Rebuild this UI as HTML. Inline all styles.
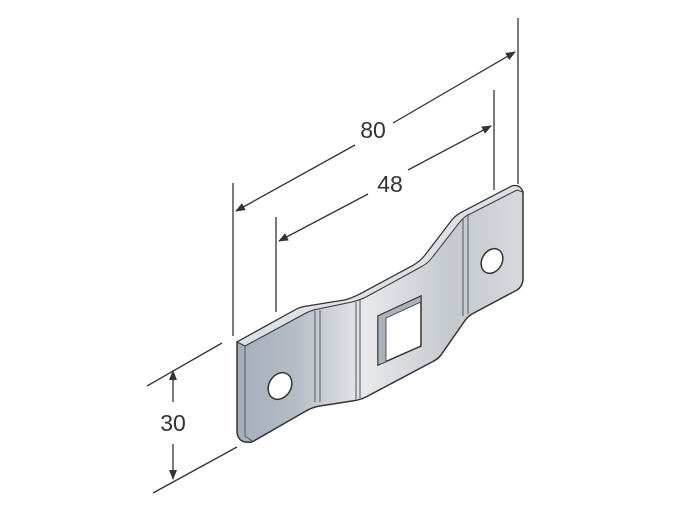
<!DOCTYPE html>
<html><head><style>html,body{margin:0;padding:0;background:#fff;width:686px;height:515px;overflow:hidden}</style></head>
<body>
<svg width="686" height="515" viewBox="0 0 686 515" xmlns="http://www.w3.org/2000/svg">
<defs>
<marker id="a" markerWidth="10" markerHeight="8" refX="9" refY="4" orient="auto" markerUnits="userSpaceOnUse"><path d="M0,0 L10,4 L0,8 Z" fill="#333"/></marker>
<linearGradient id="g" x1="0" y1="0" x2="1" y2="0">
<stop offset="0" stop-color="#a3adba"/><stop offset="0.2" stop-color="#b5bcc6"/><stop offset="0.45" stop-color="#e6e8eb"/><stop offset="0.75" stop-color="#c4c9cf"/><stop offset="1" stop-color="#d6d9dd"/></linearGradient>
</defs>
<g stroke="#333" stroke-width="1.3" fill="none">
<line x1="233" y1="183" x2="233" y2="336"/>
<line x1="518" y1="18" x2="518" y2="184"/>
<line x1="276" y1="217" x2="276" y2="312"/>
<line x1="494" y1="90" x2="494" y2="190"/>
<line x1="355" y1="145" x2="236" y2="211" marker-end="url(#a)"/>
<line x1="393" y1="123" x2="515" y2="52" marker-end="url(#a)"/>
<line x1="368" y1="194" x2="279" y2="241" marker-end="url(#a)"/>
<line x1="408" y1="170" x2="491" y2="126" marker-end="url(#a)"/>
<line x1="147" y1="386" x2="222" y2="343"/>
<line x1="153" y1="493" x2="237" y2="447"/>
<line x1="173" y1="402" x2="173" y2="371" marker-end="url(#a)"/>
<line x1="173" y1="444" x2="173" y2="479" marker-end="url(#a)"/>
</g>
<g font-family="Liberation Sans, sans-serif" font-size="23" fill="#333" text-anchor="middle">
<text x="373" y="138">80</text>
<text x="390" y="192">48</text>
<text x="173" y="431">30</text>
</g>
<path d="M237,342 L295,310 Q300,307 308,306 L345,300 Q352,298 360,294 L412,266 Q420,262 426,254 L452,220 Q456,215 462,212 L512,186 Q520,184 523,192 L523,280 Q522,287 517,290 L472,314 Q467,317 464,322 L441,355 Q438,359 432,362 L366,397 Q360,400 352,401 L320,406 Q313,407 306,411 L252,442 Q238,444 237,432 Z" fill="url(#g)" stroke="#333" stroke-width="1.5" stroke-linejoin="round"/>
<path d="M237,342 L295,310 Q300,307 308,306 L345,300 Q352,298 360,294 L412,266 Q420,262 426,254 L452,220 Q456,215 462,212 L512,186 Q520,184 523,192 L517,190 L466,216 Q462,219 459,223 L431,259 Q427,264 419,268 L366,297 Q360,300 352,302 L318,309 Q312,310 306,313 L245,346 Z" fill="#dde0e4" stroke="#333" stroke-width="1"/>
<path d="M315,311 L315,402 M320,310 L320,402 M356,302 L356,399 M360,300 L360,398 M463,218 L463,316 M468,214 L468,314" stroke="#555" stroke-width="1" fill="none"/>
<path d="M245,346 L245,436 L252,441" stroke="#555" fill="none"/>
<polygon points="378,316 421,296 421,346 378,365" fill="#fff" stroke="#333" stroke-width="1.5"/>
<polygon points="378,316 421,296 421,302 386,318 386,362 378,365" fill="#aab2bc" stroke="#333" stroke-width="0.8"/>
<ellipse cx="280" cy="386" rx="11" ry="14" transform="rotate(30 280 386)" fill="#fff" stroke="#333" stroke-width="1.5"/>
<ellipse cx="492" cy="261" rx="10" ry="13" transform="rotate(30 492 261)" fill="#fff" stroke="#333" stroke-width="1.5"/>
</svg>
</body></html>
